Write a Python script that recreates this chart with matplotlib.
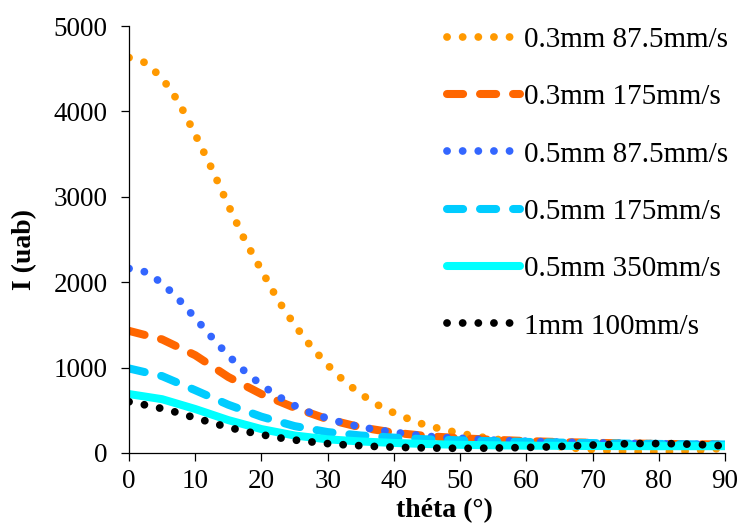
import matplotlib
matplotlib.use("Agg")
import matplotlib.pyplot as plt
import numpy as np

plt.rcParams['font.family'] = ['Liberation Serif', 'DejaVu Serif']

# angles (deg)
theta_fine = np.arange(0, 90.1, 2.5)
theta_coarse = np.arange(0, 90.1, 5)

# 0.3mm 87.5mm/s
i_03_875 = [4630, 4570, 4390, 4110, 3730, 3330, 2900, 2490, 2140, 1790, 1500, 1245,
            1030, 840, 690, 565, 470, 390, 320, 275, 230, 195, 165, 140, 115, 95,
            75, 55, 40, 25, 18, 15, 15, 18, 25, 40, 60]
# 0.3mm 175mm/s
i_03_175 = [1430, 1330, 1145, 890, 690, 530, 395, 300, 238, 198, 173, 155, 140, 128,
            120, 112, 107, 103, 100]
# 0.5mm 87.5mm/s
i_05_875 = [2160, 2120, 1990, 1800, 1580, 1355, 1140, 955, 796, 665, 555, 468,
            405, 348, 305, 270, 243, 219, 196, 181, 173, 161, 150, 143, 137, 132,
            128, 124, 120, 116, 112, 110, 108, 106, 104, 102, 100]
# 0.5mm 175mm/s
i_05_175 = [990, 900, 735, 565, 425, 315, 245, 205, 180, 160, 148, 138, 130, 122,
            116, 110, 106, 102, 100]
# 0.5mm 350mm/s
i_05_350 = [690, 630, 515, 385, 280, 205, 160, 135, 118, 105, 96, 90, 86, 84,
            82, 81, 80, 80, 80]
# 1mm 100mm/s
i_1_100 = [600, 562, 520, 470, 410, 355, 300, 255, 215, 180, 152, 130, 110, 96,
           85, 75, 68, 63, 59, 56, 55, 55, 58, 61, 65, 69, 76, 84, 93, 100, 108,
           112, 110, 109, 102, 94, 82]

labels = ['0.3mm 87.5mm/s', '0.3mm 175mm/s', '0.5mm 87.5mm/s',
          '0.5mm 175mm/s', '0.5mm 350mm/s', '1mm 100mm/s']

fig = plt.figure(figsize=(7.41, 5.25), dpi=100)
ax = fig.add_axes([129/741, 1-453/525, (725-129)/741, (453-26)/525])

dot = (0, (0.01, 2.0))
dash = (0, (2.0, 2.1))

ax.plot(theta_fine, i_03_875, color='#FF9900', lw=5.6, linestyle=dot,
        dash_capstyle='round', label=labels[0])
ax.plot(theta_coarse, i_03_175, color='#FF6600', lw=5.8, linestyle=dash,
        dash_capstyle='round', label=labels[1])
ax.plot(theta_fine, i_05_875, color='#3366FF', lw=5.6, linestyle=dot,
        dash_capstyle='round', label=labels[2])
ax.plot(theta_coarse, i_05_175, color='#00CCFF', lw=5.8, linestyle=dash,
        dash_capstyle='round', label=labels[3])
ax.plot(theta_coarse, i_05_350, color='#00FFFF', lw=5.8, solid_capstyle='round',
        label=labels[4])
ax.plot(theta_fine, i_1_100, color='#000000', lw=5.6, linestyle=dot,
        dash_capstyle='round', label=labels[5])

ax.set_xlim(0, 90)
ax.set_ylim(0, 5000)
ax.set_xticks(np.arange(0, 91, 10))
ax.set_yticks(np.arange(0, 5001, 1000))
for s in ['top', 'right']:
    ax.spines[s].set_visible(False)
for s in ['left', 'bottom']:
    ax.spines[s].set_linewidth(0.9)
ax.tick_params(direction='out', length=5.5, width=0.9, labelsize=19.5)
ax.tick_params(axis='x', pad=6)
ax.tick_params(axis='y', pad=10)

fig.text(444/741, 1-511/525, 'théta (°)', fontsize=20, fontweight='bold',
         ha='center', va='center')
fig.text(25/741, 1-250/525, 'I (uab)', fontsize=20, fontweight='bold',
         ha='center', va='center', rotation=90)

fig.legend(loc='upper left', bbox_to_anchor=(447/741, 1-26.5/525), frameon=False,
           fontsize=21, handlelength=2.5, handletextpad=0.15, labelspacing=1.06,
           borderpad=0, borderaxespad=0)

fig.savefig('out.png', dpi=100)
